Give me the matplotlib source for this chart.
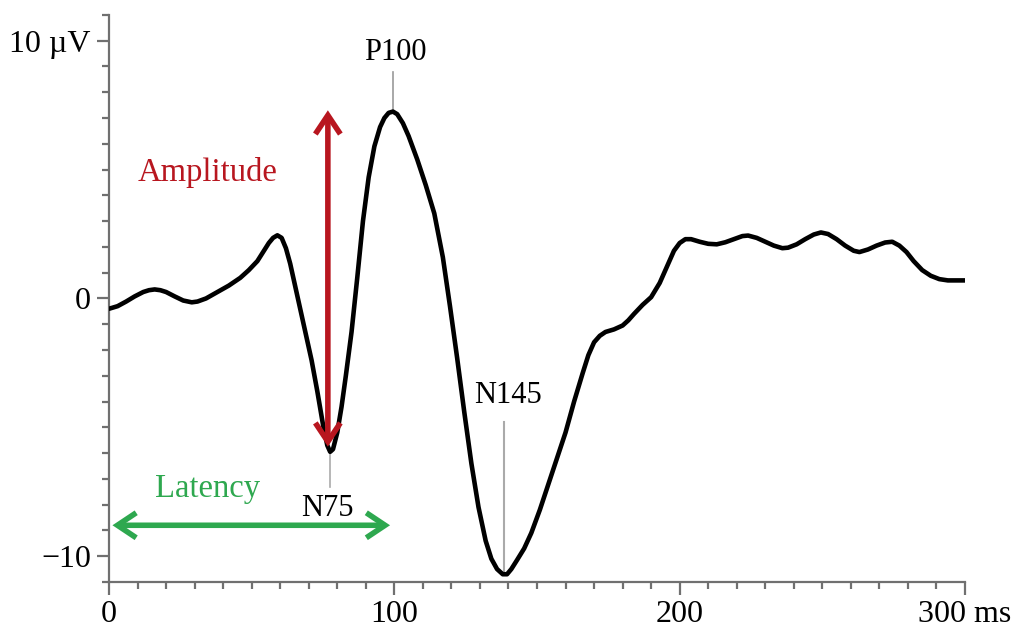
import matplotlib
matplotlib.use("Agg")
import matplotlib.pyplot as plt
from matplotlib.ticker import MultipleLocator

plt.rcParams['font.family'] = ['Liberation Serif', 'DejaVu Serif']

# waveform (time in ms, amplitude in microvolts)
t_ms = [0, 3, 6, 9, 12, 14, 16, 18, 20, 23, 26, 29, 31, 34, 38, 42, 46, 49,
        52, 54, 56, 57.5, 59, 60.5, 62, 63.5, 65, 67, 69, 71, 73, 75, 76.5,
        77.5, 78.5, 80, 81.5, 83, 85, 87, 89, 91, 93, 95, 96.5, 98, 99.5, 101,
        103, 105, 108, 111, 114, 117, 119.5, 122, 124.5, 127, 129.5, 132, 134,
        136, 138, 139.5, 141, 143, 145.5, 148, 151, 154, 157, 160, 163, 166,
        168, 170, 172, 174, 177, 180, 182, 184, 187, 190, 193, 196, 198, 200,
        202, 204, 207, 210, 213, 216, 219, 222, 224, 227, 230, 233, 236, 238,
        241, 244, 247, 249.5, 252, 255, 258, 261, 263, 266, 269, 272, 274.5,
        277, 279.5, 282, 285, 288, 291, 294, 297, 300]
amp_uv = [-0.4, -0.3, -0.12, 0.08, 0.25, 0.32, 0.35, 0.32, 0.25, 0.08, -0.08,
          -0.15, -0.12, 0.0, 0.25, 0.5, 0.8, 1.1, 1.45, 1.8, 2.15, 2.35, 2.45,
          2.35, 1.95, 1.35, 0.6, -0.4, -1.4, -2.4, -3.6, -4.9, -5.7, -5.95,
          -5.85, -5.2, -4.2, -3.0, -1.3, 0.8, 3.0, 4.7, 5.9, 6.65, 7.0, 7.2,
          7.25, 7.15, 6.8, 6.3, 5.4, 4.4, 3.3, 1.6, -0.3, -2.3, -4.4, -6.4,
          -8.1, -9.4, -10.1, -10.5, -10.7, -10.7, -10.5, -10.15, -9.7, -9.1,
          -8.2, -7.2, -6.2, -5.2, -4.0, -2.9, -2.2, -1.7, -1.45, -1.3, -1.2,
          -1.05, -0.85, -0.6, -0.25, 0.05, 0.6, 1.35, 1.85, 2.15, 2.3, 2.3,
          2.2, 2.12, 2.1, 2.18, 2.3, 2.42, 2.44, 2.35, 2.2, 2.05, 1.95, 1.97,
          2.1, 2.3, 2.48, 2.56, 2.5, 2.3, 2.05, 1.85, 1.8, 1.9, 2.05, 2.17,
          2.2, 2.05, 1.8, 1.45, 1.1, 0.88, 0.75, 0.7, 0.7, 0.7]

x_ticks = [0, 100, 200, 300]
x_labels = ['0', '100', '200', '300 ms']
y_ticks = [-10, 0, 10]
y_labels = ['\u221210', '0', '10 \u00b5V']

# peaks: name, latency, amplitude
peak_names = ['N75', 'P100', 'N145']
peak_t = [77.5, 99.5, 138.5]
peak_v = [-6.0, 7.25, -10.7]

red = '#b8161f'
green = '#2ea84f'
axis_gray = '#707070'

fig = plt.figure(figsize=(10.16, 6.35), dpi=100)
ax = fig.add_axes([0.1073, 0.0835, 0.8425, 0.893])

ax.plot(t_ms, amp_uv, color='black', lw=3.3, solid_joinstyle='round',
        solid_capstyle='round', zorder=3)

ax.set_xlim(0, 300)
ax.set_ylim(-11, 11)
for side in ['top', 'right']:
    ax.spines[side].set_visible(False)
for side in ['left', 'bottom']:
    ax.spines[side].set_color(axis_gray)
    ax.spines[side].set_linewidth(1.6)

ax.set_xticks(x_ticks)
ax.set_xticklabels(x_labels)
ax.set_yticks(y_ticks)
ax.set_yticklabels(y_labels)
ax.xaxis.set_minor_locator(MultipleLocator(10))
ax.yaxis.set_minor_locator(MultipleLocator(1))
ax.tick_params(which='major', length=9, width=1.6, color=axis_gray,
               labelsize=23, pad=4)
ax.tick_params(which='minor', length=5, width=1.6, color=axis_gray)

# peak labels with thin gray leader lines
ax.plot([peak_t[1], peak_t[1]], [peak_v[1], 8.8], color='#999999', lw=1.2)
ax.text(peak_t[1] + 1, 9.55, peak_names[1], ha='center', va='center',
        fontsize=22)
ax.plot([peak_t[0], peak_t[0]], [peak_v[0], -7.3], color='#aaaaaa', lw=1.2)
ax.text(peak_t[0] - 0.8, -8.15, peak_names[0], ha='center', va='center',
        fontsize=22)
ax.plot([peak_t[2], peak_t[2]], [peak_v[2] + 0.1, -4.8], color='#aaaaaa',
        lw=1.5)
ax.text(peak_t[2] + 1.5, -3.75, peak_names[2], ha='center', va='center',
        fontsize=22)

arrow_style = '<->,head_length=1.35,head_width=0.9'

# amplitude arrow
ax.annotate('', xy=(76.7, 7.3), xytext=(76.7, -5.75),
            arrowprops=dict(arrowstyle=arrow_style, color=red, lw=4.0,
                            shrinkA=0, shrinkB=0, joinstyle='miter',
                            capstyle='butt'),
            zorder=4)
ax.text(34.5, 4.9, 'Amplitude', color=red, ha='center', va='center',
        fontsize=23.5)

# latency arrow
ax.annotate('', xy=(1.2, -8.8), xytext=(98.5, -8.8),
            arrowprops=dict(arrowstyle=arrow_style, color=green, lw=4.0,
                            shrinkA=0, shrinkB=0, joinstyle='miter',
                            capstyle='butt'),
            zorder=4)
ax.text(34.5, -7.4, 'Latency', color=green, ha='center', va='center',
        fontsize=23.5)

fig.savefig('out.png', dpi=100)
